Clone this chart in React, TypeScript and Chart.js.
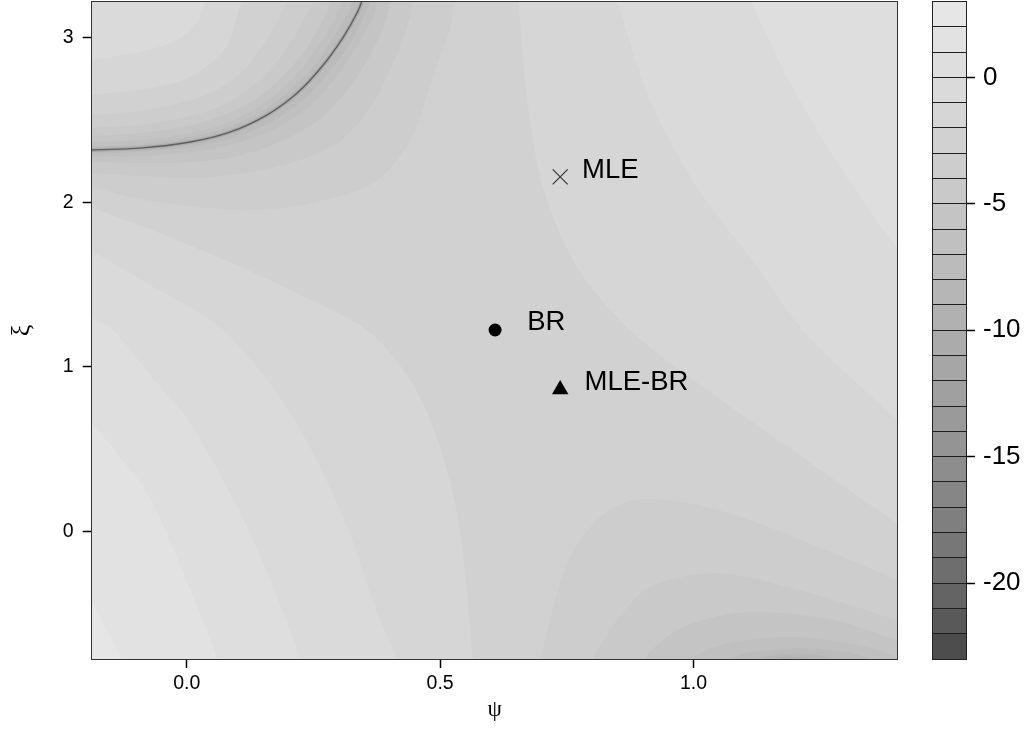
import React, { useEffect, useRef } from "react";
import { Chart, registerables } from "chart.js";

Chart.register(...registerables);

type Pt = [number, number];

// ---------------- data ----------------
const levels = [-23, -22, -21, -20, -19, -18, -17, -16, -15, -14, -13, -12, -11, -10, -9, -8, -7, -6, -5, -4, -3, -2, -1, 0, 1, 2, 3];
const keyTicks = [0, -5, -10, -15, -20];
const psiTicks = [0, 0.5, 1.0];
const xiTicks = [0, 1, 2, 3];
const psiLimits = [-0.1875, 1.403];
const xiLimits = [-0.776, 3.22];

const estimateNames = ["MLE", "BR", "MLE-BR"];
const estimatePsi = [0.737, 0.6085, 0.737];
const estimateXi = [2.155, 1.224, 0.862];
const labelPsi = [0.78, 0.672, 0.785];
const labelXi = [2.196, 1.272, 0.908];

// band containing the saddle (lower bound of the band)
const baseLevel = -3;

// ridge where the surface drops to its minimum (upper-left)
const singularCurve: Pt[] = [[-0.309, 2.3], [-0.25, 2.306], [-0.191, 2.318], [-0.092, 2.33], [0.007, 2.367], [0.085, 2.427], [0.158, 2.531], [0.218, 2.665], [0.269, 2.834], [0.309, 3.005], [0.336, 3.151], [0.346, 3.23], [0.358, 3.412], [0.366, 3.595]];

// contours on the centre side of the ridge
const lowerEdge1: Pt[] = [[-0.309, 2.166], [-0.25, 2.13], [-0.191, 2.093], [-0.092, 2.021], [0.026, 1.971], [0.137, 1.953], [0.257, 2.002], [0.374, 2.13], [0.445, 2.397], [0.476, 2.671], [0.504, 2.926], [0.52, 3.06], [0.531, 3.303], [0.543, 3.595]];
const lowerEdge2: Pt[] = [[-0.309, 2.184], [-0.25, 2.184], [-0.189, 2.178], [-0.09, 2.16], [0.016, 2.148], [0.115, 2.178], [0.212, 2.245], [0.303, 2.373], [0.366, 2.592], [0.403, 2.817], [0.431, 3.024], [0.441, 3.139], [0.455, 3.352], [0.468, 3.595]];
const lowerEdge3: Pt[] = [[-0.309, 2.227], [-0.25, 2.233], [-0.191, 2.245], [-0.09, 2.239], [0.012, 2.245], [0.101, 2.282], [0.188, 2.373], [0.263, 2.507], [0.322, 2.701], [0.362, 2.896], [0.39, 3.078], [0.399, 3.182], [0.411, 3.376], [0.421, 3.595]];
const lowerEdge4: Pt[] = [[-0.309, 2.257], [-0.25, 2.264], [-0.191, 2.276], [-0.092, 2.282], [0.01, 2.306], [0.093, 2.355], [0.174, 2.446], [0.241, 2.58], [0.297, 2.768], [0.336, 2.95], [0.366, 3.115], [0.374, 3.2], [0.388, 3.394], [0.398, 3.595]];
const lowerEdge5: Pt[] = [[-0.309, 2.276], [-0.25, 2.282], [-0.191, 2.294], [-0.092, 2.306], [0.008, 2.336], [0.089, 2.391], [0.166, 2.489], [0.23, 2.622], [0.283, 2.798], [0.324, 2.975], [0.35, 3.133], [0.362, 3.218], [0.374, 3.4], [0.381, 3.595]];

// contours on the corner side of the ridge
const upperEdge1: Pt[] = [[-0.309, 2.512], [-0.25, 2.519], [-0.193, 2.531], [-0.096, 2.555], [-0.005, 2.61], [0.056, 2.677], [0.109, 2.792], [0.143, 2.92], [0.174, 3.072], [0.198, 3.23], [0.21, 3.321], [0.245, 3.595]];
const upperEdge2: Pt[] = [[-0.309, 2.433], [-0.25, 2.44], [-0.193, 2.452], [-0.094, 2.47], [-0.001, 2.519], [0.068, 2.586], [0.127, 2.701], [0.17, 2.829], [0.208, 2.988], [0.238, 3.151], [0.257, 3.26], [0.293, 3.595]];
const upperEdge3: Pt[] = [[-0.309, 2.385], [-0.25, 2.391], [-0.191, 2.403], [-0.094, 2.421], [0.003, 2.464], [0.074, 2.531], [0.139, 2.634], [0.188, 2.762], [0.234, 2.926], [0.265, 3.09], [0.285, 3.218], [0.289, 3.285], [0.311, 3.595]];
const upperEdge4: Pt[] = [[-0.309, 2.348], [-0.25, 2.355], [-0.191, 2.367], [-0.092, 2.379], [0.005, 2.421], [0.08, 2.482], [0.147, 2.592], [0.2, 2.726], [0.245, 2.889], [0.283, 3.06], [0.303, 3.194], [0.311, 3.267], [0.326, 3.595]];
const upperEdge5: Pt[] = [[-0.309, 2.324], [-0.25, 2.33], [-0.191, 2.342], [-0.092, 2.355], [0.005, 2.397], [0.082, 2.458], [0.153, 2.561], [0.208, 2.695], [0.259, 2.859], [0.295, 3.03], [0.322, 3.169], [0.328, 3.248], [0.342, 3.595]];

const crescentLevels = [-4, -5, -6, -7, -8];
const crescentLower = [lowerEdge1, lowerEdge2, lowerEdge3, lowerEdge4, lowerEdge5];
const crescentUpper = [upperEdge1, upperEdge2, upperEdge3, upperEdge4, upperEdge5];

// upper-left corner (above the ridge)
const ulRegion1: Pt[] = [[-0.309, 2.634], [-0.25, 2.64], [-0.195, 2.653], [-0.098, 2.683], [-0.011, 2.738], [0.04, 2.829], [0.08, 2.95], [0.095, 3.084], [0.109, 3.236], [0.141, 3.595], [-0.309, 3.595]];
const ulRegion2: Pt[] = [[-0.309, 2.847], [-0.25, 2.853], [-0.197, 2.865], [-0.102, 2.908], [-0.023, 2.981], [0.012, 3.066], [0.034, 3.188], [0.038, 3.291], [0.046, 3.595], [-0.309, 3.595]];
const upperLeftLevels = [-2, -1];
const upperLeftRegions = [ulRegion1, ulRegion2];

// lower-left corner (rising)
const llRegion1: Pt[] = [[-0.309, 2.105], [-0.25, 2.038], [-0.191, 1.971], [-0.053, 1.813], [0.085, 1.637], [0.224, 1.437], [0.356, 1.223], [0.441, 0.92], [0.5, 0.513], [0.539, 0.008], [0.565, -0.783], [0.573, -1.026], [0.581, -1.269], [-0.309, -1.269]];
const llRegion2: Pt[] = [[-0.309, 1.923], [-0.25, 1.819], [-0.191, 1.71], [-0.072, 1.497], [0.072, 1.223], [0.204, 0.72], [0.309, 0.087], [0.376, -0.497], [0.415, -0.783], [0.425, -1.026], [0.433, -1.269], [-0.309, -1.269]];
const llRegion3: Pt[] = [[-0.309, 1.509], [-0.25, 1.407], [-0.191, 1.303], [-0.145, 1.223], [-0.072, 0.95], [0.007, 0.658], [0.119, 0.026], [0.178, -0.399], [0.224, -0.783], [0.235, -1.026], [0.243, -1.269], [-0.309, -1.269]];
const llRegion4: Pt[] = [[-0.309, 1.145], [-0.25, 0.908], [-0.191, 0.677], [-0.132, 0.452], [-0.072, 0.202], [0.007, -0.357], [0.06, -0.783], [0.072, -1.026], [0.08, -1.269], [-0.309, -1.269]];
const llRegion5: Pt[] = [[-0.29, 0.19], [-0.25, -0.035], [-0.191, -0.399], [-0.161, -0.582], [-0.128, -0.783], [-0.112, -1.026], [-0.102, -1.269], [-0.309, -1.269]];
const lowerLeftLevels = [-2, -1, 0, 1, 2];
const lowerLeftRegions = [llRegion1, llRegion2, llRegion3, llRegion4, llRegion5];

// upper-right corner (rising)
const urRegion1: Pt[] = [[1.526, 3.595], [0.644, 3.595], [0.648, 3.412], [0.654, 3.23], [0.672, 2.622], [0.703, 2.093], [0.77, 1.607], [0.875, 1.223], [1.027, 0.859], [1.224, 0.433], [1.315, 0.233], [1.408, 0.038], [1.467, -0.083], [1.526, -0.211]];
const urRegion2: Pt[] = [[1.526, 3.595], [0.81, 3.595], [0.83, 3.412], [0.849, 3.23], [0.914, 2.622], [1.007, 2.093], [1.126, 1.607], [1.216, 1.223], [1.408, 0.658], [1.467, 0.482], [1.526, 0.305]];
const urRegion3: Pt[] = [[1.526, 3.595], [1.055, 3.595], [1.084, 3.412], [1.112, 3.23], [1.191, 2.726], [1.289, 2.215], [1.408, 1.692], [1.467, 1.431], [1.526, 1.169]];
const upperRightLevels = [-2, -1, 0];
const upperRightRegions = [urRegion1, urRegion2, urRegion3];

// lower-right corner (falling)
const lrRegion1: Pt[] = [[1.526, -1.269], [0.654, -1.269], [0.676, -1.026], [0.697, -0.783], [0.751, -0.193], [0.816, 0.087], [0.881, 0.19], [0.98, 0.178], [1.112, 0.068], [1.276, -0.132], [1.402, -0.296], [1.467, -0.382], [1.526, -0.46]];
const lrRegion2: Pt[] = [[1.526, -1.269], [0.77, -1.269], [0.786, -1.026], [0.802, -0.783], [0.849, -0.539], [0.914, -0.339], [1.047, -0.254], [1.21, -0.357], [1.402, -0.539], [1.467, -0.6], [1.526, -0.661]];
const lrRegion3: Pt[] = [[1.526, -1.269], [0.859, -1.269], [0.879, -1.026], [0.901, -0.783], [0.98, -0.582], [1.112, -0.491], [1.276, -0.539], [1.402, -0.661], [1.467, -0.722], [1.526, -0.783]];
const lrRegion4: Pt[] = [[1.526, -1.269], [0.958, -1.269], [0.974, -1.026], [0.994, -0.783], [1.079, -0.673], [1.21, -0.643], [1.342, -0.703], [1.402, -0.764], [1.467, -0.831], [1.526, -0.892]];
const lrRegion5: Pt[] = [[1.033, -1.269], [1.049, -1.026], [1.072, -0.783], [1.151, -0.722], [1.25, -0.715], [1.348, -0.783], [1.372, -1.026], [1.388, -1.269]];
const lrRegion6: Pt[] = [[1.102, -1.269], [1.116, -1.026], [1.132, -0.783], [1.191, -0.746], [1.27, -0.783], [1.286, -1.026], [1.299, -1.269]];
const lrRegion7: Pt[] = [[1.147, -1.269], [1.155, -1.026], [1.165, -0.789], [1.201, -0.764], [1.236, -0.789], [1.246, -1.026], [1.254, -1.269]];
const lowerRightLevels = [-4, -5, -6, -7, -8, -9, -10];
const lowerRightRegions = [lrRegion1, lrRegion2, lrRegion3, lrRegion4, lrRegion5, lrRegion6, lrRegion7];

// ---------------- styling helpers ----------------
const SANS = "'Liberation Sans', Arial, Helvetica, sans-serif";
const SERIF = "'Liberation Serif', 'Times New Roman', serif";

// R gray.colors(n, start = 0.3, end = 0.9, gamma = 2.2)
function bandColor(level: number): string {
  const nBands = levels.length - 1;
  const i = level - levels[0];
  const lo = Math.pow(0.3, 2.2);
  const hi = Math.pow(0.9, 2.2);
  const g = Math.pow(lo + (i / (nBands - 1)) * (hi - lo), 1 / 2.2);
  const v = Math.round(g * 255);
  return `rgb(${v},${v},${v})`;
}

const toXY = (pts: Pt[]) => pts.map(([x, y]) => ({ x, y }));

function regionDataset(points: Pt[], level: number): any {
  return {
    data: toXY(points),
    fill: "shape",
    backgroundColor: bandColor(level),
    borderColor: "rgba(0,0,0,0)",
    borderWidth: 0,
    pointRadius: 0,
    pointHoverRadius: 0,
    tension: 0.3,
    capBezierPoints: false,
  };
}

function buildPlotDatasets(): any[] {
  const painted: any[] = [];
  crescentLower.forEach((lower, k) => {
    painted.push(regionDataset([...lower, ...crescentUpper[k].slice().reverse()], crescentLevels[k]));
  });
  upperLeftRegions.forEach((r, k) => painted.push(regionDataset(r, upperLeftLevels[k])));
  lowerLeftRegions.forEach((r, k) => painted.push(regionDataset(r, lowerLeftLevels[k])));
  upperRightRegions.forEach((r, k) => painted.push(regionDataset(r, upperRightLevels[k])));
  lowerRightRegions.forEach((r, k) => painted.push(regionDataset(r, lowerRightLevels[k])));
  painted.push({
    data: toXY(singularCurve), fill: false, borderColor: "#ababab", borderWidth: 4,
    pointRadius: 0, pointHoverRadius: 0, tension: 0.3, capBezierPoints: false,
  });
  painted.push({
    data: toXY(singularCurve), fill: false, borderColor: "#5f5f5f", borderWidth: 1.4,
    pointRadius: 0, pointHoverRadius: 0, tension: 0.3, capBezierPoints: false,
  });
  const n = painted.length;
  painted.forEach((d, i) => { d.order = n - i + 10; });
  painted.push({
    data: estimatePsi.map((x, i) => ({ x, y: estimateXi[i] })),
    showLine: false,
    fill: false,
    order: 0,
    pointStyle: ["crossRot", "circle", "triangle"],
    pointRadius: [10.6, 6.5, 9.5],
    pointHoverRadius: [10.6, 6.5, 9.5],
    pointBackgroundColor: ["#3a3a3a", "#000000", "#000000"],
    pointBorderColor: ["#3a3a3a", "#000000", "#000000"],
    pointBorderWidth: [1.3, 0, 0],
  });
  return painted;
}

const plotPlugin = {
  id: "plotDecor",
  beforeDatasetsDraw(chart: any) {
    const { ctx, chartArea: a } = chart;
    ctx.save();
    ctx.fillStyle = bandColor(baseLevel);
    ctx.fillRect(a.left, a.top, a.right - a.left, a.bottom - a.top);
    ctx.restore();
  },
  afterDatasetsDraw(chart: any) {
    const { ctx, chartArea: a, scales } = chart;
    ctx.save();
    ctx.font = `27.5px ${SANS}`;
    ctx.fillStyle = "#000";
    ctx.textAlign = "left";
    ctx.textBaseline = "middle";
    estimateNames.forEach((t, i) => {
      ctx.fillText(t, scales.x.getPixelForValue(labelPsi[i]), scales.y.getPixelForValue(labelXi[i]));
    });
    ctx.strokeStyle = "#333";
    ctx.lineWidth = 1;
    const l = Math.floor(a.left) + 0.5, t = Math.floor(a.top) + 0.5;
    const r = Math.floor(a.right) + 0.5, b = Math.floor(a.bottom) + 0.5;
    ctx.strokeRect(l, t, r - l, b - t);
    ctx.restore();
  },
};

const keyPlugin = {
  id: "keyBox",
  afterDraw(chart: any) {
    const { ctx, chartArea: a } = chart;
    ctx.save();
    ctx.strokeStyle = "#222";
    ctx.lineWidth = 1;
    const l = Math.floor(a.left) + 0.5, t = Math.floor(a.top) + 0.5;
    const r = Math.floor(a.right) + 0.5, b = Math.floor(a.bottom) + 0.5;
    ctx.strokeRect(l, t, r - l, b - t);
    ctx.restore();
  },
};

export default function App() {
  const plotRef = useRef<HTMLCanvasElement>(null);
  const keyRef = useRef<HTMLCanvasElement>(null);

  useEffect(() => {
    const plot = new Chart(plotRef.current as HTMLCanvasElement, {
      type: "line",
      data: { datasets: buildPlotDatasets() },
      options: {
        animation: false,
        responsive: false,
        devicePixelRatio: 1,
        events: [],
        layout: { autoPadding: false, padding: { left: 0, top: 1.7, right: 12.3, bottom: 0 } },
        plugins: { legend: { display: false }, tooltip: { enabled: false } },
        scales: {
          x: {
            type: "linear",
            position: "bottom",
            min: psiLimits[0],
            max: psiLimits[1],
            afterBuildTicks: (s: any) => { s.ticks = psiTicks.map((v) => ({ value: v })); },
            afterFit: (s: any) => { s.height = 70; s.paddingLeft = 0; s.paddingRight = 0; },
            ticks: {
              autoSkip: false, maxRotation: 0, padding: 4, color: "#000",
              font: { family: SANS, size: 19.5 },
              callback: (v: any) => Number(v).toFixed(1),
            },
            grid: { display: true, drawOnChartArea: false, drawTicks: true, tickLength: 9, tickColor: "#000", tickWidth: 1.5 },
            border: { display: false },
            title: { display: true, text: "ψ", color: "#000", font: { family: SERIF, size: 23 }, padding: { top: 0, bottom: 5 } },
          },
          y: {
            type: "linear",
            position: "left",
            min: xiLimits[0],
            max: xiLimits[1],
            afterBuildTicks: (s: any) => { s.ticks = xiTicks.map((v) => ({ value: v })); },
            afterFit: (s: any) => { s.width = 91.7; s.paddingTop = 0; s.paddingBottom = 0; },
            ticks: {
              autoSkip: false, padding: 9, color: "#000",
              font: { family: SANS, size: 19.5 },
              callback: (v: any) => String(v),
            },
            grid: { display: true, drawOnChartArea: false, drawTicks: true, tickLength: 9, tickColor: "#000", tickWidth: 1.5 },
            border: { display: false },
            title: { display: true, text: "ξ", color: "#000", font: { family: SERIF, size: 26 }, padding: { top: 7, bottom: 0 } },
          },
        },
      } as any,
      plugins: [plotPlugin],
    } as any);

    const bandLows = levels.slice(0, -1);
    const key = new Chart(keyRef.current as HTMLCanvasElement, {
      type: "bar",
      data: {
        labels: ["key"],
        datasets: bandLows.map((lo, i) => ({
          data: [[lo, levels[i + 1]]],
          backgroundColor: bandColor(lo),
          borderWidth: 0,
          grouped: false,
          barPercentage: 1,
          categoryPercentage: 1,
        })),
      },
      options: {
        animation: false,
        responsive: false,
        devicePixelRatio: 1,
        events: [],
        layout: { autoPadding: false, padding: { left: 22, top: 1.5, right: 0, bottom: 70 } },
        plugins: { legend: { display: false }, tooltip: { enabled: false } },
        scales: {
          x: { display: false },
          y: {
            position: "right",
            min: levels[0],
            max: levels[levels.length - 1],
            afterBuildTicks: (s: any) => { s.ticks = levels.map((v) => ({ value: v })); },
            afterFit: (s: any) => { s.width = 61; s.paddingTop = 0; s.paddingBottom = 0; },
            ticks: {
              autoSkip: false, padding: 8, color: "#000",
              font: { family: SANS, size: 26 },
              callback: (v: any) => (keyTicks.includes(Number(v)) ? String(v) : ""),
            },
            grid: {
              display: true, drawOnChartArea: true, color: "#1e1e1e", lineWidth: 1, z: 1,
              drawTicks: true, tickLength: 9, tickWidth: 1.5,
              tickColor: (c: any) => (c.tick && keyTicks.includes(c.tick.value) ? "#000" : "rgba(0,0,0,0)"),
            },
            border: { display: false },
          },
        },
      } as any,
      plugins: [keyPlugin],
    } as any);

    return () => {
      plot.destroy();
      key.destroy();
    };
  }, []);

  return (
    <div style={{ position: "fixed", left: 0, top: 0, width: 1027, height: 729, background: "#fff" }}>
      <canvas ref={plotRef} width={910} height={729} style={{ position: "absolute", left: 0, top: 0, width: 910, height: 729 }} />
      <canvas ref={keyRef} width={117} height={729} style={{ position: "absolute", left: 910, top: 0, width: 117, height: 729 }} />
    </div>
  );
}
